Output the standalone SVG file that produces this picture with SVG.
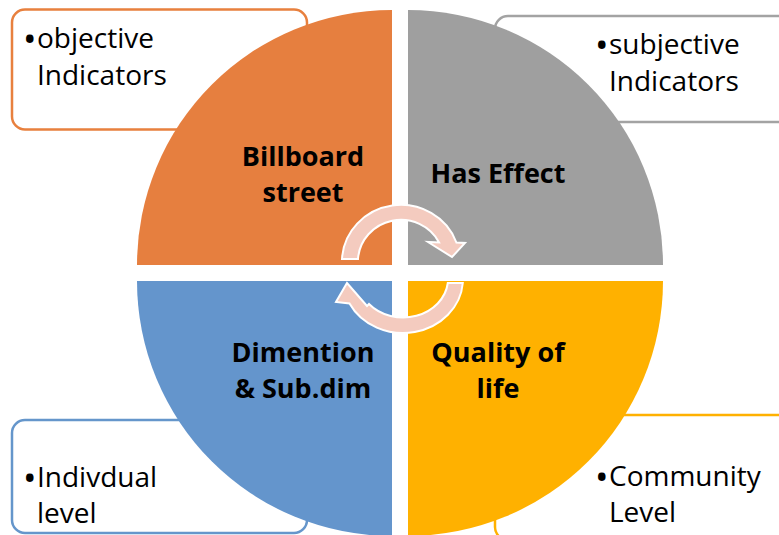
<svg xmlns="http://www.w3.org/2000/svg" width="779" height="535" viewBox="0 0 779 535">
  <style>
    .box { fill: #FFFFFF; stroke-width: 2.5; }
    .note { font-family: "Open Sans", "Liberation Sans", sans-serif; font-size: 28px; fill: #000000; }
    .dot { font-size: 36px; }
    .label { font-family: "Open Sans", "Liberation Sans", sans-serif; font-size: 27px; font-weight: bold; fill: #000000; text-anchor: middle; }
    .cycle { fill: #F4CBBF; stroke: #FFFFFF; stroke-width: 2; stroke-linejoin: miter; }
  </style>

  <rect width="779" height="535" fill="#FFFFFF"/>

  <!-- side notes behind the wheel -->
  <g id="note-objective">
    <rect class="box" x="12" y="9.5" width="295" height="120" rx="13" stroke="#E8803E"/>
    <text class="note"><tspan class="dot" x="23" y="52">•</tspan><tspan x="37" y="48">objective</tspan><tspan x="37" y="85">Indicators</tspan></text>
  </g>
  <g id="note-subjective">
    <rect class="box" x="495" y="16" width="300" height="106" rx="13" stroke="#A3A3A3"/>
    <text class="note"><tspan class="dot" x="595" y="58">•</tspan><tspan x="609" y="54">subjective</tspan><tspan x="609" y="91">Indicators</tspan></text>
  </g>
  <g id="note-individual">
    <rect class="box" x="12" y="420" width="295" height="113" rx="13" stroke="#6596CB"/>
    <text class="note"><tspan class="dot" x="23" y="491">•</tspan><tspan x="37" y="487">Indivdual</tspan><tspan x="37" y="523">level</tspan></text>
  </g>
  <g id="note-community">
    <rect class="box" x="495" y="415" width="300" height="125" rx="13" stroke="#FFB100"/>
    <text class="note"><tspan class="dot" x="595" y="490">•</tspan><tspan x="609" y="486">Community</tspan><tspan x="609" y="522">Level</tspan></text>
  </g>

  <!-- four quadrants of the wheel -->
  <g id="billboard-street">
    <path d="M392,265 L137,265 A255,255 0 0 1 392,10 Z" fill="#E67F3F"/>
    <text class="label" x="303" y="166">Billboard</text>
    <text class="label" x="303" y="202">street</text>
  </g>
  <g id="has-effect">
    <path d="M408,265 L408,10 A255,255 0 0 1 663,265 Z" fill="#9F9F9F"/>
    <text class="label" x="498" y="183">Has Effect</text>
  </g>
  <g id="quality-of-life">
    <path d="M408,281 L663,281 A255,255 0 0 1 408,536 Z" fill="#FFB100"/>
    <text class="label" x="498" y="362">Quality of</text>
    <text class="label" x="498" y="398">life</text>
  </g>
  <g id="dimension">
    <path d="M392,281 L392,536 A255,255 0 0 1 137,281 Z" fill="#6495CC"/>
    <text class="label" x="303" y="362">Dimention</text>
    <text class="label" x="303" y="398">&amp; Sub.dim</text>
  </g>

  <!-- circular arrows in the centre -->
  <g id="connectors">
    <path class="cycle" d="M342,259 A59,57 0 0 1 456.4,242.5 L465,243 L452,257 L428,242 L439.1,242.5 A43,42 0 0 0 358,259 Z"/>
    <path class="cycle" d="M462.8,283 A60,54 0 0 1 349.5,303.5 L336,302 L347,283 L367,306 L369,304 A45,39 0 0 0 447.8,283 Z"/>
  </g>
</svg>
